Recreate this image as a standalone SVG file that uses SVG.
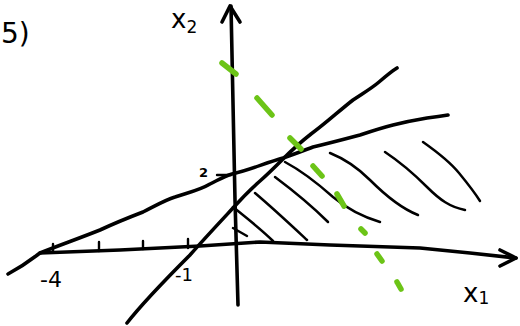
<svg xmlns="http://www.w3.org/2000/svg" width="520" height="326" viewBox="0 0 520 326">
<style>
.ln{fill:none;stroke:#000;stroke-width:3.6;stroke-linecap:round;stroke-linejoin:round}
.ht{fill:none;stroke:#000;stroke-width:2.5;stroke-linecap:round;stroke-linejoin:round}
.tk{fill:none;stroke:#000;stroke-width:2.4;stroke-linecap:round}
.gr{fill:none;stroke:#6cc417;stroke-width:5.5;stroke-linecap:round}
.t{font-family:"DejaVu Sans",sans-serif;fill:#000}
</style>
<rect width="520" height="326" fill="#fff"/>
<g id="axes">
<path class="ln" d="M238,305 L235,200 L231,6"/>
<path class="ln" d="M222,22 L230,6 L240,22"/>
<path class="ln" d="M40,253 L120,250 L200,246 L260,242 L330,245 L420,248 L470,253 L516,258"/>
<path class="ln" d="M500,250 L516,258 L500,266"/>
<path class="tk" d="M53,244 L53,252 M99,242 L99,251 M143,241 L143,249 M188,239 L188,248"/>
<path class="tk" d="M217,175 L231,175"/>
</g>
<g id="lines">
<path class="ln" d="M8,274 C25,265 32,259 40,253 C60,245 80,238 100,230 C115,223 130,217 143,212 C155,206 165,200 175,197 C190,192 200,190 210,184 C220,179 225,176 232,174 C250,170 265,163 283,158 C295,154 305,150 313,147 C330,143 345,139 360,135 C375,130 385,127 393,125 C405,122 415,120 427,118 C435,117 442,116 448,115"/>
<path class="ln" d="M127,323 C145,300 170,275 190,255 C205,238 220,222 233,208 C242,198 252,188 260,181 C268,174 276,166 283,159 C292,150 302,141 311,134 C325,124 340,110 353,100 C365,92 372,88 379,82 C386,76 392,71 397,68"/>
</g>
<g id="hatching">
<path class="ht" d="M233,228 L247,236"/>
<path class="ht" d="M233,207 C248,219 262,230 273,241"/>
<path class="ht" d="M255,193 C275,210 292,226 307,240"/>
<path class="ht" d="M275,177 C295,192 313,207 328,222"/>
<path class="ht" d="M285,162 C300,170 315,181 333,197 C345,207 360,216 380,222"/>
<path class="ht" d="M330,153 C345,159 357,167 370,180 C385,195 400,208 418,215"/>
<path class="ht" d="M385,152 C400,162 415,175 427,187 C440,200 450,207 465,210"/>
<path class="ht" d="M423,142 C440,154 450,162 459,173 C468,184 475,193 480,201"/>
</g>
<g id="green">
<path class="gr" d="M222,63 L236,74"/>
<path class="gr" d="M257,98 L272,115"/>
<path class="gr" d="M290,138 L301,149"/>
<path class="gr" d="M313,166 L322,176"/>
<path class="gr" d="M337,194 L344,206"/>
<path class="gr" d="M361,229 L365,233"/>
<path class="gr" d="M377,254 L382,261"/>
<path class="gr" d="M397,282 L401,289"/>
</g>
<g id="labels">
<text class="t" x="1" y="43" font-size="28">5)</text>
<text class="t" x="171" y="28" font-size="26">x<tspan font-size="17" dy="5">2</tspan></text>
<text class="t" x="199" y="177" font-size="13" font-weight="bold">2</text>
<text class="t" x="40" y="287" font-size="22">-4</text>
<text class="t" x="175" y="281" font-size="18">-1</text>
<text class="t" x="463" y="302" font-size="26">x<tspan font-size="17" dy="2">1</tspan></text>
</g>
</svg>
